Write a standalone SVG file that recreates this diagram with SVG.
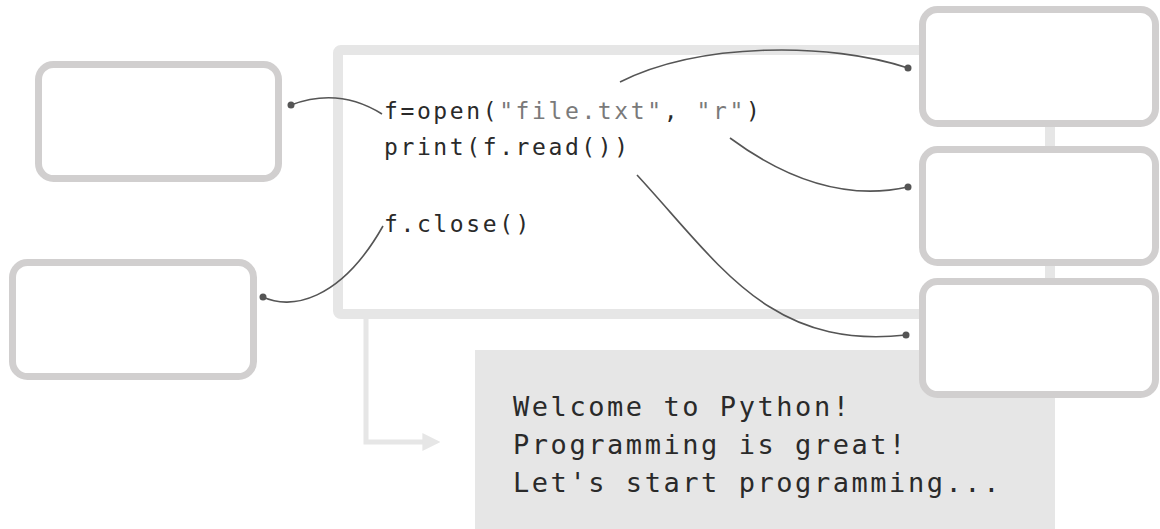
<svg xmlns="http://www.w3.org/2000/svg" width="1160" height="529" viewBox="0 0 1160 529">
<style>
.box{fill:#fff;stroke:#d1cfcf;stroke-width:7}
.code{font-family:"DejaVu Sans Mono","Liberation Mono",monospace;font-size:23px;fill:#2a2a2a;letter-spacing:2.6px}
.out{font-family:"DejaVu Sans Mono","Liberation Mono",monospace;font-size:27px;fill:#2a2a2a;letter-spacing:2.55px}
.str{fill:#7a7a7a}
.conn{fill:none;stroke:#555;stroke-width:1.6}
.dot{fill:#555}
</style>
<defs>
<marker id="arr" viewBox="0 0 10 10" refX="2" refY="5" markerWidth="3.6" markerHeight="6" orient="auto" markerUnits="strokeWidth">
<path d="M0,0 L10,5 L0,10 z" fill="#e6e6e6"/>
</marker>
</defs>
<g id="frame">
<rect x="338" y="50" width="712" height="264" rx="3" fill="#fff" stroke="#e6e6e6" stroke-width="10"/>
<text class="code" x="384" y="119">f=open(<tspan class="str">"file.txt"</tspan>, <tspan class="str">"r"</tspan>)</text>
<text class="code" x="384" y="155">print(f.read())</text>
<text class="code" x="384" y="232">f.close()</text>
</g>
<g id="flow">
<path d="M366,314 V442 H426" fill="none" stroke="#e6e6e6" stroke-width="5" marker-end="url(#arr)"/>
</g>
<g id="output">
<rect x="475" y="350" width="580" height="179" fill="#e6e6e6"/>
<text class="out" x="513" y="416">Welcome to Python!</text>
<text class="out" x="513" y="454">Programming is great!</text>
<text class="out" x="513" y="492">Let's start programming...</text>
</g>
<g id="box-left-1"><rect class="box" x="38.5" y="64.5" width="240" height="114" rx="15"/></g>
<g id="box-left-2"><rect class="box" x="12.5" y="262.5" width="241" height="114" rx="15"/></g>
<g id="box-right-1"><rect class="box" x="922.5" y="9.5" width="233" height="114" rx="15"/></g>
<g id="box-right-2"><rect class="box" x="922.5" y="149.5" width="233" height="113" rx="15"/></g>
<g id="box-right-3"><rect class="box" x="922.5" y="281.5" width="233" height="113" rx="15"/></g>
<g id="connectors">
<path class="conn" d="M291,105 C320,94 350,94 382,114"/>
<circle class="dot" cx="291" cy="105" r="3.5"/>
<path class="conn" d="M263,297 C290,310 340,302 383,226"/>
<circle class="dot" cx="263" cy="297" r="3.5"/>
<path class="conn" d="M620,82 C700,42 830,42 908,68"/>
<circle class="dot" cx="908" cy="68" r="3.5"/>
<path class="conn" d="M730,138 C780,175 840,202 908,187"/>
<circle class="dot" cx="908" cy="187" r="3.5"/>
<path class="conn" d="M637,175 C720,265 770,350 906,335"/>
<circle class="dot" cx="906" cy="335" r="3.5"/>
</g>
</svg>
